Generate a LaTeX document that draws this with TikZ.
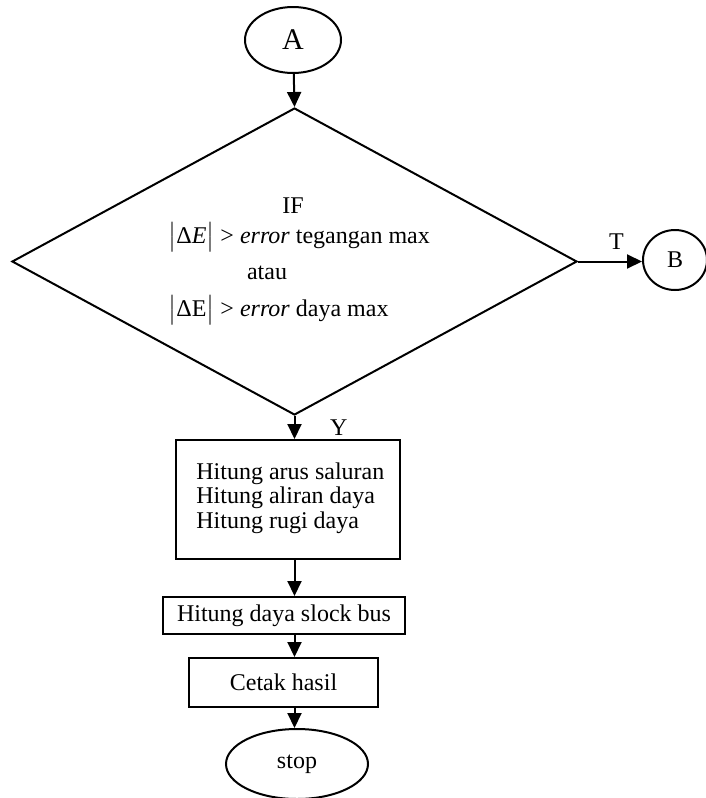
\documentclass[tikz,border=0pt]{standalone}
\usepackage{fontspec}
\usepackage{amsmath}
\setmainfont{Liberation Serif}
\usetikzlibrary{shapes}
\usetikzlibrary{calc}
\usetikzlibrary{positioning}
\usetikzlibrary{arrows.meta}

\tikzset{
    flow/.style = {-{Triangle[length=7.5pt, width=7pt]}, line width = 1pt},
    proc/.style = {rectangle, draw, fill = white, line width = 1pt},
    term/.style = {ellipse, draw, fill = white, line width = 1pt, inner sep = 0pt},
}

\begin{document}
\begin{tikzpicture}[black, x = 0.5pt, y = -0.5pt, font = \fontsize{12pt}{12.3pt}\selectfont]

    \useasboundingbox (0,0) rectangle (706,798);

    % terminator and decision
    \node (A) at (293,40) [term, minimum width = 48pt, minimum height = 33pt] {\fontsize{15pt}{15pt}\selectfont A};

    \node (dec) at (294.5,261.5) [diamond, draw, line width = 1pt, inner sep = 0pt, minimum width = 282.5pt, minimum height = 153.5pt] {};

    \node (if)    at (293,206) {IF};
    \node (cond1) at (168,237) [anchor = west, inner sep = 0pt] {$\bigl|\text{Δ\textit{E}}\bigr|$ > \textit{error} tegangan max};
    \node (atau)  at (267,273) {atau};
    \node (cond2) at (168,310) [anchor = west, inner sep = 0pt] {$\bigl|\text{ΔE}\bigr|$ > \textit{error} daya max};

    \node (B) at (675,260) [term, minimum width = 32pt, minimum height = 30pt] {B};

    % process boxes
    \node (calc)  at (288,499.5) [proc, minimum width = 112pt, minimum height = 59.5pt] {};
    \node (lines) at (196,498) [anchor = west, align = left, inner sep = 0pt] {Hitung arus saluran\\Hitung aliran daya\\Hitung rugi daya};

    \node (slack) at (284,615.5) [proc, minimum width = 121pt, minimum height = 18.5pt] {Hitung daya slock bus};
    \node (print) at (283.5,682.5) [proc, minimum width = 94.5pt, minimum height = 24.5pt] {Cetak hasil};
    \node (stop)  at (297,764) [term, minimum width = 71pt, minimum height = 35pt] {stop};

    % connectors
    \draw[flow] (A) -- (dec.north);
    \draw[flow] (dec.east) -- (dec.east -| B.west) node [pos = 0.6, above = 2pt] {T};
    \draw[flow] (dec.south) -- (dec.south |- calc.north) node [midway, right = 14pt] {Y};
    \draw[flow] (dec.south |- calc.south) -- (dec.south |- slack.north);
    \draw[flow] (dec.south |- slack.south) -- (dec.south |- print.north);
    \draw[flow] (dec.south |- print.south) -- (dec.south |- stop.north);

\end{tikzpicture}
\end{document}
